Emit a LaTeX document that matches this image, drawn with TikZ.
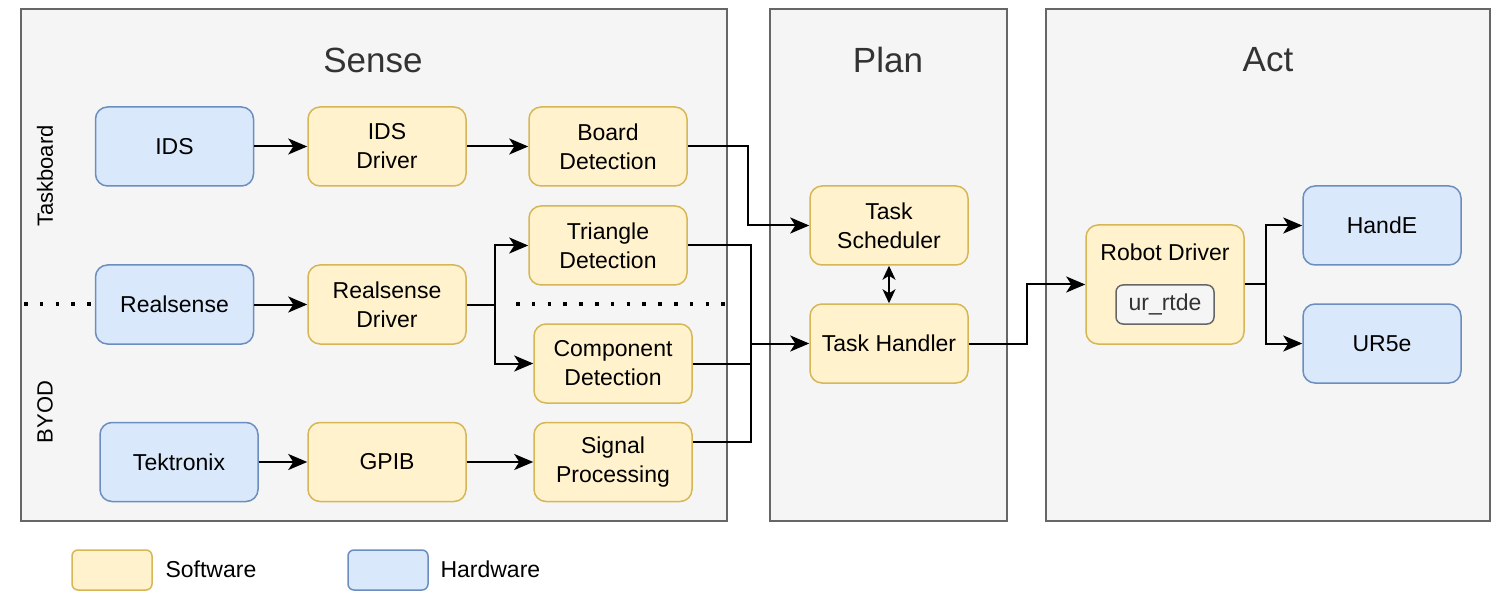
\documentclass[tikz,border=0pt]{standalone}
\usepackage{fontspec}
\setmainfont{Liberation Sans}
\usetikzlibrary{arrows.meta}
\definecolor{hwfill}{HTML}{DAE8FC}
\definecolor{hwdraw}{HTML}{6C8EBF}
\definecolor{swfill}{HTML}{FFF2CC}
\definecolor{swdraw}{HTML}{D6B656}
\definecolor{panelfill}{HTML}{F5F5F5}
\definecolor{paneldraw}{HTML}{666666}
\definecolor{titlecol}{HTML}{333333}
\tikzset{
  panel/.style={draw=paneldraw, fill=panelfill, line width=1.5pt},
  paneltitle/.style={text=titlecol, font=\fontsize{35}{40}\selectfont},
  blk/.style={rounded corners=12pt, minimum width=158pt, minimum height=79pt, line width=1.5pt, align=center, font=\fontsize{23}{29}\selectfont, inner sep=0pt},
  hw/.style={blk, draw=hwdraw, fill=hwfill},
  sw/.style={blk, draw=swdraw, fill=swfill},
  inner/.style={rounded corners=7pt, draw=paneldraw, fill=panelfill, line width=1.5pt, minimum width=98pt, minimum height=39pt, text=titlecol, font=\fontsize{23}{29}\selectfont, inner sep=0pt},
  conn/.style={line width=2pt, -{Stealth[length=19pt,width=16pt,inset=5pt]}},
  dbl/.style={line width=2pt, {Stealth[length=14pt,width=13pt,inset=4pt]}-{Stealth[length=14pt,width=13pt,inset=4pt]}},
  side/.style={rotate=90, font=\fontsize{22}{26}\selectfont},
  legtext/.style={anchor=west, font=\fontsize{23}{28}\selectfont},
  dots/.style={line width=3.5pt, dash pattern=on 3.5pt off 12.3pt}
}
\begin{document}
\begin{tikzpicture}[x=1pt, y=-1pt]
\useasboundingbox (0,0) rectangle (1508,596);
% panels
\draw[panel] (21,9) rectangle (727,521);
\draw[panel] (770,9) rectangle (1007,521);
\draw[panel] (1046,9) rectangle (1490,521);
\node[paneltitle] (tsense) at (373,60) {Sense};
\node[paneltitle] (tplan) at (888,60) {Plan};
\node[paneltitle] (tact) at (1268,60) {Act};
% side labels
\node[side] (ltask) at (45,176) {Taskboard};
\node[side] (lbyod) at (45,412) {BYOD};
% dotted separator
\draw[dots] (24,304) -- (94,304);
\draw[dots] (516,304) -- (727,304);
% Sense nodes
\node[hw] (ids) at (174.5,146.5) {IDS};
\node[sw] (idsd) at (387,146.5) {IDS\\Driver};
\node[sw] (board) at (608,146.5) {Board\\Detection};
\node[sw] (tri) at (608,245.5) {Triangle\\Detection};
\node[hw] (rs) at (174.5,304.5) {Realsense};
\node[sw] (rsd) at (387,304.5) {Realsense\\Driver};
\node[sw] (comp) at (613,363.5) {Component\\Detection};
\node[hw] (tek) at (179,462) {Tektronix};
\node[sw] (gpib) at (387,462) {GPIB};
\node[sw] (sig) at (613,462) {Signal\\Processing};
% Plan nodes
\node[sw] (sched) at (889,225.5) {Task\\Scheduler};
\node[sw] (hand) at (889,343.5) {Task Handler};
% Act nodes
\node[sw, minimum height=119pt] (rd) at (1165,284.5) {};
\node[font=\fontsize{23}{29}\selectfont] (rdl) at (1165,252) {Robot Driver};
\node[inner] (urt) at (1165,304.5) {ur\_rtde};
\node[hw] (hande) at (1382,225.5) {HandE};
\node[hw] (ur5e) at (1382,343.5) {UR5e};
% legend
\node[sw, minimum width=80pt, minimum height=40pt, rounded corners=6pt] (legsw) at (112,570) {};
\node[legtext] (legswt) at (162,569) {Software};
\node[hw, minimum width=80pt, minimum height=40pt, rounded corners=6pt] (leghw) at (388,570) {};
\node[legtext] (leghwt) at (437,569) {Hardware};
% connectors
\draw[conn] (ids) -- (idsd);
\draw[conn] (idsd) -- (board);
\draw[conn] (rs) -- (rsd);
\draw[conn] (tek) -- (gpib);
\draw[conn] (gpib) -- (sig);
\draw[conn] (rsd.east) -- ++(28,0) |- (tri.west);
\draw[conn] (rsd.east) -- ++(28,0) |- (comp.west);
\draw[conn] (board.east) -| (748,225.5) -- (sched.west);
\draw[conn] (tri.east) -| (751,343.5) -- (hand.west);
\draw[line width=2pt] (comp.east) -| (751,343.5);
\draw[line width=2pt] (sig.east |- 0,442) -| (751,343.5);
\draw[dbl] (sched.south) -- (hand.north);
\draw[conn] (hand.east) -| (1027,284.5) -- (rd.west);
\draw[conn] (rd.east) -- ++(21,0) |- (hande.west);
\draw[conn] (rd.east) -- ++(21,0) |- (ur5e.west);
\end{tikzpicture}
\end{document}
